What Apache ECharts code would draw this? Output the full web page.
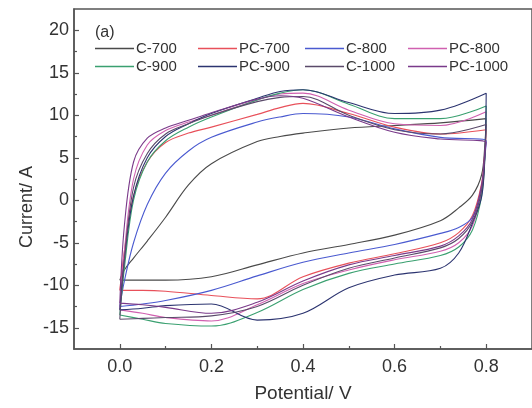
<!DOCTYPE html>
<html><head><meta charset="utf-8">
<script src="https://cdn.jsdelivr.net/npm/echarts@6/dist/echarts.min.js"></script>
<style>html,body{margin:0;padding:0;background:#fff}#c{width:532px;height:408px}</style>
</head><body><div id="c"></div>
<script>
// Potentials (V): forward (anodic) sweep and reverse (cathodic) sweep
const potFwd = [0, 0.01, 0.03, 0.06, 0.1, 0.15, 0.2, 0.3, 0.35, 0.4, 0.5, 0.6, 0.7, 0.8];
const potRev = [0.797, 0.79, 0.77, 0.74, 0.7, 0.6, 0.5, 0.4, 0.3, 0.2, 0.1, 0.05, 0.0];

const names = ['C-700', 'PC-700', 'C-800', 'PC-800', 'C-900', 'PC-900', 'C-1000', 'PC-1000'];
const colors = ['#4a4a4a', '#e8505a', '#4a5ad0', '#d060b0', '#3aa070', '#2c3470', '#5a4a6a', '#7a3a8a'];

// Current (A) on forward sweep
const fwdC700  = [-9.4, -8.2, -6.8, -4.8, -2.0, 1.8, 4.3, 6.9, 7.5, 7.9, 8.5, 8.8, 9.1, 9.6];
const fwdPC700 = [-10.6, -6.0, 0.5, 4.5, 6.8, 7.9, 8.6, 10.1, 10.9, 11.4, 10.2, 8.6, 7.8, 8.3];
const fwdC800  = [-12.5, -9.5, -5.0, -0.5, 3.2, 5.8, 7.4, 9.2, 9.8, 10.2, 9.8, 8.4, 7.4, 7.0];
const fwdPC800 = [-12.9, -6.0, 2.5, 6.5, 8.2, 9.2, 10.0, 11.8, 12.5, 12.6, 10.6, 9.0, 8.8, 10.4];
const fwdC900  = [-13.5, -8.0, 0.0, 4.5, 7.0, 8.6, 9.8, 11.8, 12.6, 13.0, 11.3, 9.6, 9.6, 11.1];
const fwdPC900 = [-12.9, -7.0, 0.5, 5.0, 7.5, 9.0, 10.2, 12.0, 12.8, 13.0, 11.5, 10.2, 10.6, 12.6];
const fwdC1000 = [-14.0, -7.0, 1.5, 5.5, 7.8, 9.0, 10.0, 11.6, 12.1, 12.2, 10.0, 8.3, 7.8, 8.9];
const fwdPC1000 = [-12.1, -3.0, 4.5, 7.3, 8.5, 9.4, 10.3, 11.9, 12.3, 12.0, 9.8, 8.0, 7.2, 6.8];

// Current (A) on reverse sweep
const revC700  = [6.5, 3.0, 0.6, -0.9, -2.4, -4.1, -5.2, -6.2, -7.6, -9.0, -9.4, -9.4, -9.4];
const revPC700 = [5.5, 2.0, -1.8, -3.8, -5.0, -6.3, -7.4, -9.0, -11.6, -11.2, -10.7, -10.6, -10.6];
const revC800  = [5.0, 1.5, -2.0, -3.2, -3.9, -5.2, -6.2, -7.3, -8.9, -10.6, -11.8, -12.2, -12.5];
const revPC800 = [5.2, 1.0, -3.0, -5.0, -6.0, -7.0, -8.2, -9.8, -12.3, -14.2, -13.8, -13.3, -12.9];
const revC900  = [5.0, 0.5, -3.5, -5.5, -6.5, -7.5, -8.6, -10.5, -13.2, -14.8, -14.5, -14.0, -13.5];
const revPC900 = [5.0, 0.4, -2.7, -6.2, -8.0, -8.8, -10.3, -13.3, -14.1, -12.2, -12.4, -12.7, -12.9];
const revC1000 = [5.3, 1.2, -2.5, -4.5, -5.6, -6.8, -8.0, -10.0, -12.5, -13.6, -13.8, -13.9, -14.0];
const revPC1000 = [5.6, 1.8, -2.2, -4.2, -5.4, -6.5, -7.6, -9.5, -12.0, -13.3, -12.6, -12.3, -12.1];

const fwdAll = [fwdC700, fwdPC700, fwdC800, fwdPC800, fwdC900, fwdPC900, fwdC1000, fwdPC1000];
const revAll = [revC700, revPC700, revC800, revPC800, revC900, revPC900, revC1000, revPC1000];

const xMajor = [0, 0.2, 0.4, 0.6, 0.8];
const xMinor = [0.1, 0.3, 0.5, 0.7];
const yMajor = [-15, -10, -5, 0, 5, 10, 15, 20];
const yMinor = [-12.5, -7.5, -2.5, 2.5, 7.5, 12.5, 17.5];

const FONT = "'Liberation Sans', Arial, sans-serif";
const TXT = '#333';
const AX = '#555';

const series = names.map((n, i) => {
  const d = [];
  potFwd.forEach((p, k) => d.push([p, fwdAll[i][k]]));
  potRev.forEach((p, k) => d.push([p, revAll[i][k]]));
  return {
    name: n, type: 'line', data: d, smooth: 0.35, symbol: 'none', showSymbol: false,
    lineStyle: { width: 1.1, color: colors[i] }, itemStyle: { color: colors[i] }
  };
});

const legendCols = [['C-700', 'C-900'], ['PC-700', 'PC-900'], ['C-800', 'C-1000'], ['PC-800', 'PC-1000']];
const legendLeft = [95, 198, 305, 408];
const legends = legendCols.map((col, i) => ({
  data: col, orient: 'vertical', left: legendLeft[i], top: 41, padding: 0,
  icon: 'rect', itemWidth: 39, itemHeight: 1.5, itemGap: 3,
  textStyle: { fontFamily: FONT, fontSize: 15, color: TXT, padding: [0, 0, 0, -3] }
}));

const chart = echarts.init(document.getElementById('c'), null, { renderer: 'canvas' });
chart.setOption({
  animation: false,
  backgroundColor: '#fff',
  grid: { left: 74, top: 9, right: -10, bottom: 53, show: true, borderColor: AX, borderWidth: 1.5, backgroundColor: 'transparent' },
  legend: legends,
  graphic: [
    { type: 'text', x: 27, y: 207, rotation: Math.PI / 2,
      style: { text: 'Current/ A', fontFamily: FONT, fontSize: 18, fill: TXT, textAlign: 'center', textVerticalAlign: 'middle' } },
    { type: 'text', x: 95, y: 33,
      style: { text: '(a)', fontFamily: FONT, fontSize: 16, fill: TXT, textAlign: 'left', textVerticalAlign: 'middle' } }
  ],
  xAxis: [
    { type: 'value', min: -0.1, max: 0.9, position: 'bottom',
      axisLine: { show: true, onZero: false, lineStyle: { color: AX, width: 1.5 } },
      axisTick: { show: true, inside: true, length: 5, customValues: xMajor, lineStyle: { color: AX, width: 1.2 } },
      axisLabel: { customValues: xMajor, formatter: v => v.toFixed(1), fontFamily: FONT, fontSize: 18, color: TXT, margin: 9 },
      splitLine: { show: false },
      name: 'Potential/ V', nameLocation: 'middle', nameGap: 35,
      nameTextStyle: { fontFamily: FONT, fontSize: 19, color: TXT } },
    { type: 'value', min: -0.1, max: 0.9, position: 'bottom',
      axisLine: { show: false, onZero: false },
      axisTick: { show: true, inside: true, length: 3, customValues: xMinor, lineStyle: { color: AX, width: 1.2 } },
      axisLabel: { show: false }, splitLine: { show: false } }
  ],
  yAxis: [
    { type: 'value', min: -17.5, max: 22.5, position: 'left',
      axisLine: { show: true, onZero: false, lineStyle: { color: AX, width: 1.5 } },
      axisTick: { show: true, inside: true, length: 5, customValues: yMajor, lineStyle: { color: AX, width: 1.2 } },
      axisLabel: { customValues: yMajor, fontFamily: FONT, fontSize: 18, color: TXT, margin: 5 },
      splitLine: { show: false } },
    { type: 'value', min: -17.5, max: 22.5, position: 'left',
      axisLine: { show: false, onZero: false },
      axisTick: { show: true, inside: true, length: 3, customValues: yMinor, lineStyle: { color: AX, width: 1.2 } },
      axisLabel: { show: false }, splitLine: { show: false } }
  ],
  series: series
});
</script></body></html>
